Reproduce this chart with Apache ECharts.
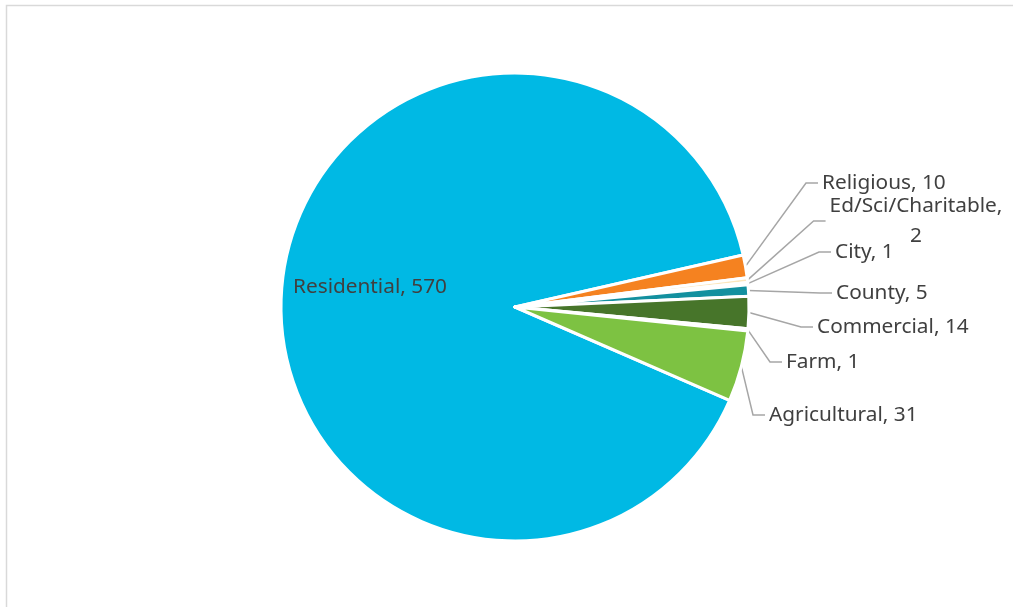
<!DOCTYPE html>
<html>
<head>
<meta charset="utf-8">
<script src="https://cdn.jsdelivr.net/npm/echarts@6/dist/echarts.min.js"></script>
<style>
html,body{margin:0;padding:0;background:#fff;}
#chart{width:1013px;height:607px;}
</style>
</head>
<body>
<div id="chart"></div>
<script>
const categories = ['Residential', 'Religious', 'Ed/Sci/Charitable', 'City', 'County', 'Commercial', 'Farm', 'Agricultural'];
const values = [570, 10, 2, 1, 5, 14, 1, 31];
const colors = ['#00B9E4', '#F58220', '#FCE6BC', '#EAF4F8', '#13909F', '#47752A', '#C5D7A8', '#7DC242'];
// label text anchor points (text left edge / text vertical middle)
const labelSpots = [
  {x: 293, y: 287, align: 'left'},
  {x: 822, y: 183, align: 'left'},
  {x: 916, y: 221, align: 'center'},
  {x: 835, y: 252, align: 'left'},
  {x: 836, y: 293, align: 'left'},
  {x: 817, y: 327, align: 'left'},
  {x: 786, y: 362, align: 'left'},
  {x: 769, y: 415, align: 'left'}
];

function labelPadding(i) {
  if (i === 0) return [0, 0, 0, 0];
  return [0, 4, 0, 4];
}

const chart = echarts.init(document.getElementById('chart'), null, {renderer: 'canvas'});

const data = categories.map((c, i) => {
  const item = {
    name: c, value: values[i], itemStyle: {color: colors[i]},
    label: {padding: labelPadding(i), backgroundColor: 'rgba(255,255,255,0)'}
  };
  if (i === 0) {
    item.labelLine = {show: false};
  }
  if (c === 'Ed/Sci/Charitable') {
    item.label.lineHeight = 30;
    item.label.align = 'center';
  }
  return item;
});

chart.setOption({
  animation: false,
  backgroundColor: '#ffffff',
  graphic: [{
    type: 'rect',
    shape: {x: 6.5, y: 5.5, width: 1100, height: 700},
    style: {fill: 'none', stroke: '#d9d9d9', lineWidth: 1.5},
    silent: true
  }],
  series: [{
    type: 'pie',
    center: [515, 307],
    radius: [0, 234],
    startAngle: -23.5,
    clockwise: true,
    avoidLabelOverlap: false,
    data: data,
    itemStyle: {borderColor: '#ffffff', borderWidth: 3},
    label: {
      show: true,
      position: 'outside',
      fontFamily: 'Noto Sans',
      fontSize: 20.8,
      color: '#404040',
      formatter: function (p) {
        if (p.name === 'Ed/Sci/Charitable') return p.name + ',\n' + p.value;
        return p.name + ', ' + p.value;
      }
    },
    labelLine: {
      show: true,
      length: 20,
      length2: 12,
      lineStyle: {color: '#A6A6A6', width: 1.5}
    },
    labelLayout: function (params) {
      const i = params.dataIndex;
      const s = labelSpots[i];
      const p = labelPadding(i);
      const x = s.align === 'left' ? s.x - p[3] : s.x;
      return {x: x, y: s.y, align: s.align, verticalAlign: 'middle', moveOverlap: false};
    }
  }]
});
</script>
</body>
</html>
